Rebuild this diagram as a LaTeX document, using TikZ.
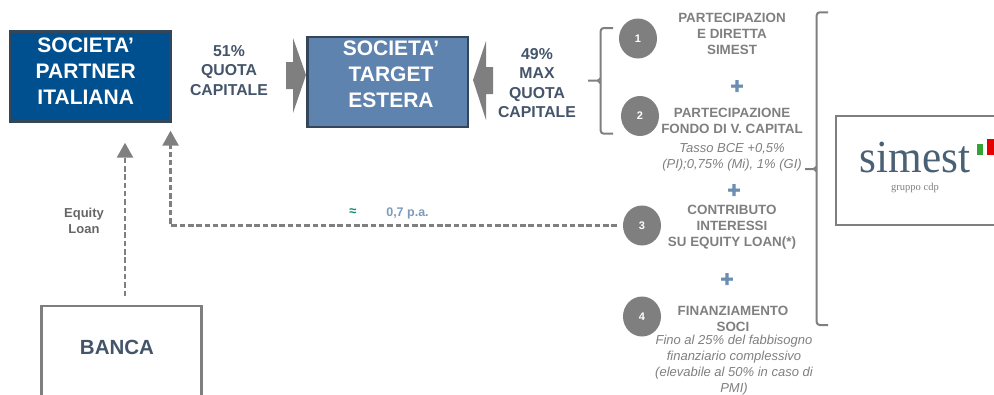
\documentclass[tikz,border=0pt]{standalone}
\usepackage{fontspec}
\setmainfont{Liberation Sans}
\newfontfamily\logofont{Liberation Serif}
\newfontfamily\plusfont[BoldFeatures={FakeBold=3}]{Liberation Sans}
\usetikzlibrary{arrows.meta,shapes.geometric}
\definecolor{boxedge}{HTML}{34475A}
\definecolor{partnerblue}{HTML}{00508F}
\definecolor{targetblue}{HTML}{5F83AF}
\definecolor{slate}{HTML}{44546A}
\definecolor{midgray}{HTML}{7F7F7F}
\definecolor{plusblue}{HTML}{6C8EB2}
\definecolor{rateblue}{HTML}{7C9ABB}
\definecolor{rategreen}{HTML}{0B8A72}
\definecolor{logoslate}{HTML}{4A6074}
\begin{document}
\begin{tikzpicture}[x=1pt,y=-1pt,
        companybox/.style={draw=boxedge,line width=2.6pt,minimum width=160.5pt,minimum height=90pt,inner sep=0pt,outer sep=0pt},
        plainbox/.style={draw=midgray,line width=2.6pt,inner sep=0pt,outer sep=0pt},
        boxlabel/.style={align=center,text=white,font=\fontsize{21}{26}\selectfont\bfseries},
        quotalabel/.style={align=center,text=slate,font=\fontsize{15.8}{19.3}\selectfont\bfseries},
        steplabel/.style={align=center,text=midgray,font=\fontsize{13.4}{16}\selectfont\bfseries},
        ratelabel/.style={align=center,text=midgray,font=\fontsize{13}{16}\selectfont\itshape},
        stepdot/.style={ellipse,fill=midgray,text=white,minimum width=38pt,minimum height=40pt,inner sep=0pt,font=\fontsize{11}{13}\selectfont\bfseries},
        plussign/.style={text=plusblue,inner sep=0pt,font=\fontsize{22}{22}\plusfont\bfseries},
        loanline/.style={draw=midgray,line width=2.6pt,dash pattern=on 5.5pt off 2.8pt,-{Triangle[length=15pt,width=16pt,fill=midgray]}},
        bracket/.style={draw=midgray,line width=2pt,rounded corners=3pt}]
        \useasboundingbox (0,0) rectangle (994,394);
        \clip (0,0) rectangle (994,394);
        % companies
        \node[companybox,fill=partnerblue] (partner) at (90.3,76.7) {};
        \node[companybox,fill=targetblue] (target) at (387.7,82) {};
        \node[boxlabel] (partnertext) at (85.7,71.5) {SOCIETA’\\PARTNER\\ITALIANA};
        \node[boxlabel] (targettext) at (391,74) {SOCIETA’\\TARGET\\ESTERA};
        \node[plainbox,minimum width=160pt,minimum height=98pt] (banca) at (121.3,355) {};
        \node[text=slate,font=\fontsize{20.5}{24}\selectfont\bfseries] (bancatext) at (117,347) {BANCA};
        \node[plainbox,minimum width=174pt,minimum height=109pt] (simest) at (923,170.4) {};
        % logo
        \node[text=logoslate,inner sep=0pt,font=\fontsize{46}{46}\logofont] (simesttext) at (915,157.5) {\scalebox{.94}[1]{simest}};
        \node[text=midgray,inner sep=0pt,font=\fontsize{10.5}{12}\logofont] (gruppotext) at (915,188) {gruppo cdp};
        \fill[green!55!black!80] (977,144) rectangle (983,155);
        \fill[red!90!black] (987,139) rectangle (994,155);
        % quota arrows
        \fill[midgray] (286,62) -- (293,62) -- (293,38) -- (306,75) -- (293,113) -- (293,89) -- (286,89) -- cycle;
        \fill[midgray] (493,67) -- (486,67) -- (486,41) -- (473,80) -- (486,120) -- (486,94) -- (493,94) -- cycle;
        \node[quotalabel] (quotaleft) at (229,70.5) {51\%\\QUOTA\\CAPITALE};
        \node[quotalabel] (quotaright) at (537,83) {49\%\\MAX\\QUOTA\\CAPITALE};
        % steps
        \node[stepdot] (dotone) at (638,38.5) {1};
        \node[stepdot] (dottwo) at (640,116) {2};
        \node[stepdot] (dotthree) at (642,225.5) {3};
        \node[stepdot] (dotfour) at (642,316.5) {4};
        \node[steplabel] (stepone) at (732,34) {PARTECIPAZION\\E DIRETTA\\SIMEST};
        \node[steplabel] (steptwo) at (732,121) {PARTECIPAZIONE\\FONDO DI V. CAPITAL};
        \node[ratelabel] (ratetwo) at (732,157.5) {Tasso BCE +0,5\%\\(PI);0,75\% (Mi), 1\% (GI)};
        \node[steplabel] (stepthree) at (732,227) {CONTRIBUTO\\INTERESSI\\SU EQUITY LOAN(*)};
        \node[steplabel] (stepfour) at (733,319) {FINANZIAMENTO\\SOCI};
        \node[ratelabel] (ratefour) at (734,365) {Fino al 25\% del fabbisogno\\finanziario complessivo\\(elevabile al 50\% in caso di\\PMI)};
        \node[plussign] (plusone) at (737,87) {+};
        \node[plussign] (plustwo) at (734,191) {+};
        \node[plussign] (plusthree) at (727,280) {+};
        % brackets
        \draw[bracket] (613,28) -- (600.7,28) -- (600.7,133.7) -- (613,133.7);
        \draw[bracket,rounded corners=1pt] (588,80.7) -- (598,80.7) -- (600.7,78);
        \draw[bracket,rounded corners=1pt] (598,80.7) -- (600.7,83.5);
        \draw[bracket] (828,12.3) -- (816.7,12.3) -- (816.7,325) -- (828,325);
        \draw[bracket,rounded corners=1pt] (805,169) -- (814,169) -- (816.7,166.5);
        \draw[bracket,rounded corners=1pt] (814,169) -- (816.7,171.5);
        % loans
        \coordinate (loanx) at (125,200);
        \draw[loanline,shorten <=10pt,shorten >=21pt] (banca.north -| loanx) -- (partner.south -| loanx);
        \draw[loanline,shorten <=6pt,shorten >=9pt] (dotthree.west) -- (dotthree.west -| partner.south east) -- (partner.south east);
        \node[align=center,text=black!60,font=\fontsize{13}{16.5}\selectfont\bfseries] (equityloan) at (84,221) {Equity\\Loan};
        \node[text=rategreen,inner sep=0pt,font=\fontsize{13}{14}\selectfont\bfseries] (approx) at (353,212) {≈};
        \node[text=rateblue,inner sep=0pt,font=\fontsize{12.5}{14}\selectfont\bfseries] (rate) at (407.5,213.5) {0,7 p.a.};
    \end{tikzpicture}
\end{document}
